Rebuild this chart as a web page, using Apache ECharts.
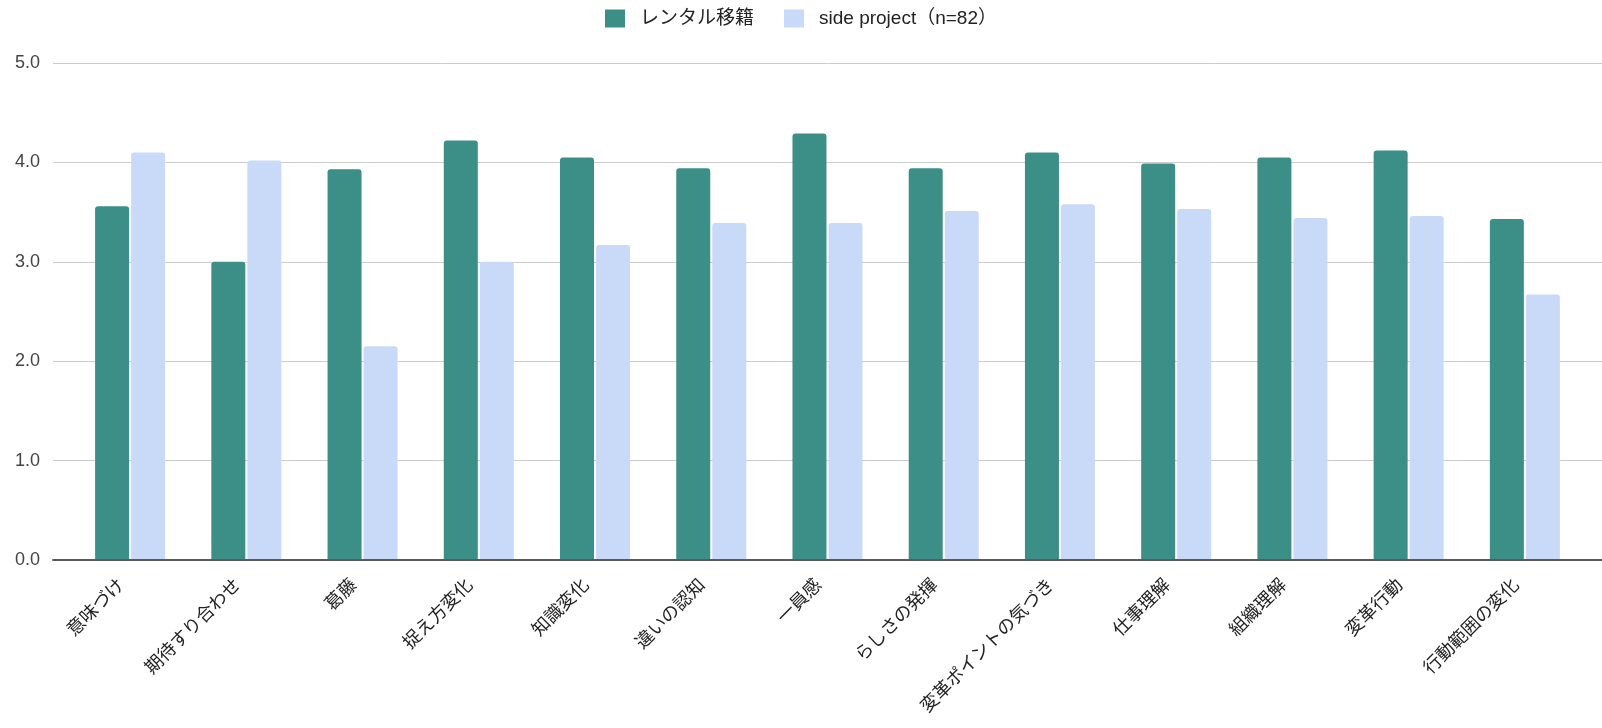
<!DOCTYPE html>
<html><head><meta charset="utf-8">
<script src="https://cdn.jsdelivr.net/npm/echarts@6/dist/echarts.min.js"></script>
<style>html,body{margin:0;padding:0;background:#fff}#c{width:1602px;height:728px}</style>
</head><body><div id="c"></div>
<script>
const categories = ['意味づけ','期待すり合わせ','葛藤','捉え方変化','知識変化','違いの認知','一員感','らしさの発揮','変革ポイントの気づき','仕事理解','組織理解','変革行動','行動範囲の変化'];
const rentalValues = [3.56, 3.0, 3.93, 4.22, 4.05, 3.94, 4.29, 3.94, 4.10, 3.99, 4.05, 4.12, 3.43];
const sideValues = [4.10, 4.02, 2.15, 3.0, 3.17, 3.39, 3.39, 3.51, 3.58, 3.53, 3.44, 3.46, 2.67];
const seriesNames = ['レンタル移籍', 'side project（n=82）'];
const yTicks = { min: 0, max: 5, interval: 1 };

const font = '"Liberation Sans", "Noto Sans CJK JP", Arial, sans-serif';
const chart = echarts.init(document.getElementById('c'));
chart.setOption({
  animation: false,
  textStyle: { fontFamily: font },
  legend: {
    top: 4, left: 'center', icon: 'rect', itemWidth: 20, itemHeight: 18, itemGap: 30,
    textStyle: { fontSize: 19, color: '#222', fontFamily: font, padding: [0,0,0,10] },
    data: seriesNames
  },
  grid: [
    { left: 53, right: 0, top: 63, bottom: 168 },
    { left: 72, right: 19, top: 63, bottom: 168 }
  ],
  xAxis: [
    { gridIndex: 0, type: 'category', data: categories, show: true,
      axisLine: { show: true, lineStyle: { color: '#5a5a5a', width: 2 } },
      axisTick: { show: false }, axisLabel: { show: false }, z: 5 },
    { gridIndex: 1, type: 'category', data: categories,
      axisLine: { show: false }, axisTick: { show: false },
      axisLabel: { interval: 0, rotate: 45, margin: 14, fontSize: 18, color: '#222', fontFamily: font,
        padding: [0, 12, 0, 0] } }
  ],
  yAxis: [
    { gridIndex: 0, type: 'value', min: yTicks.min, max: yTicks.max, interval: yTicks.interval,
      axisLine: { show: false }, axisTick: { show: false },
      axisLabel: { margin: 13, fontSize: 18, color: '#444', fontFamily: font,
        formatter: v => v.toFixed(1) },
      splitLine: { lineStyle: { color: '#cccccc', width: 1 } } },
    { gridIndex: 1, type: 'value', min: yTicks.min, max: yTicks.max, interval: yTicks.interval,
      show: false, splitLine: { show: false } }
  ],
  series: [
    { name: seriesNames[0], type: 'bar', xAxisIndex: 1, yAxisIndex: 1, data: rentalValues,
      barWidth: 34, barGap: '6%', itemStyle: { color: '#3b8f86', borderRadius: [3,3,0,0] } },
    { name: seriesNames[1], type: 'bar', xAxisIndex: 1, yAxisIndex: 1, data: sideValues,
      barWidth: 34, barGap: '6%', itemStyle: { color: '#c9daf8', borderRadius: [3,3,0,0] } }
  ]
});
</script></body></html>
